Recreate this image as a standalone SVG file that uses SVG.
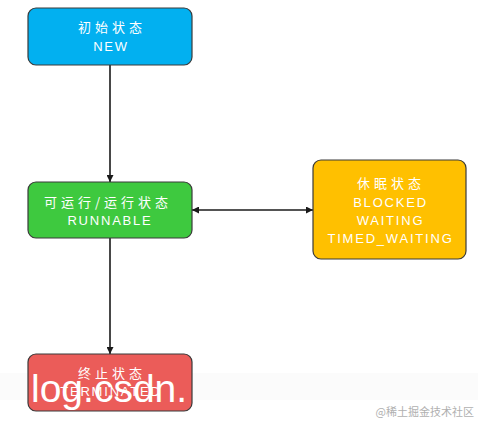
<svg xmlns="http://www.w3.org/2000/svg" width="478" height="422" viewBox="0 0 478 422">
<defs>
<style>
.box{stroke:#3a3a3a;stroke-width:1.2}
.t{font-family:"Noto Sans CJK SC","Liberation Sans",sans-serif;font-size:13px;letter-spacing:4px;fill:#ffffff;text-anchor:middle}
.e{font-family:"Liberation Sans","Noto Sans",sans-serif;font-size:13px;letter-spacing:1.8px;fill:#ffffff;text-anchor:middle}
.c{stroke:#1a1a1a;stroke-width:1.6;fill:none}
</style>
<marker id="ah" viewBox="0 0 10 10" refX="10" refY="5" markerWidth="7" markerHeight="7" orient="auto-start-reverse" markerUnits="userSpaceOnUse">
<path d="M0,0 L10,5 L0,10 Z" fill="#1a1a1a"/>
</marker>
</defs>
<rect width="478" height="422" fill="#ffffff"/>
<rect x="0" y="373" width="478" height="27" fill="#fbfbfb"/>
<g id="connectors">
<line class="c" x1="110" y1="65" x2="110" y2="182" marker-end="url(#ah)"/>
<line class="c" x1="110" y1="238" x2="110" y2="354" marker-end="url(#ah)"/>
<line class="c" x1="192" y1="210" x2="313" y2="210" marker-start="url(#ah)" marker-end="url(#ah)"/>
</g>
<g id="node-new">
<rect class="box" x="28" y="8" width="164" height="57" rx="8" fill="#02b0f0"/>
<text class="t" x="112" y="32">初始状态</text>
<text class="e" x="111" y="51">NEW</text>
</g>
<g id="node-runnable">
<rect class="box" x="28" y="182" width="164" height="56" rx="8" fill="#3ec93f"/>
<text class="t" x="108" y="207">可运行/运行状态</text>
<text class="e" x="110" y="225">RUNNABLE</text>
</g>
<g id="node-waiting">
<rect class="box" x="313" y="160" width="153" height="99" rx="8" fill="#ffc000"/>
<text class="t" x="391" y="188">休眠状态</text>
<text class="e" x="390.5" y="207">BLOCKED</text>
<text class="e" x="390.5" y="225">WAITING</text>
<text class="e" x="390.5" y="243">TIMED_WAITING</text>
</g>
<g id="node-terminated">
<rect class="box" x="28" y="354" width="164" height="57" rx="8" fill="#eb5c59"/>
<text class="t" x="112" y="378">终止状态</text>
<text class="e" x="111" y="396">TERMINATED</text>
</g>
<text x="31" y="402" font-family="Liberation Sans,sans-serif" font-size="39" fill="#ffffff">log.csdn.</text>
<text x="474" y="416" font-family="Noto Sans CJK SC,sans-serif" font-size="11" fill="#b0b0b0" text-anchor="end">@稀土掘金技术社区</text>
</svg>
